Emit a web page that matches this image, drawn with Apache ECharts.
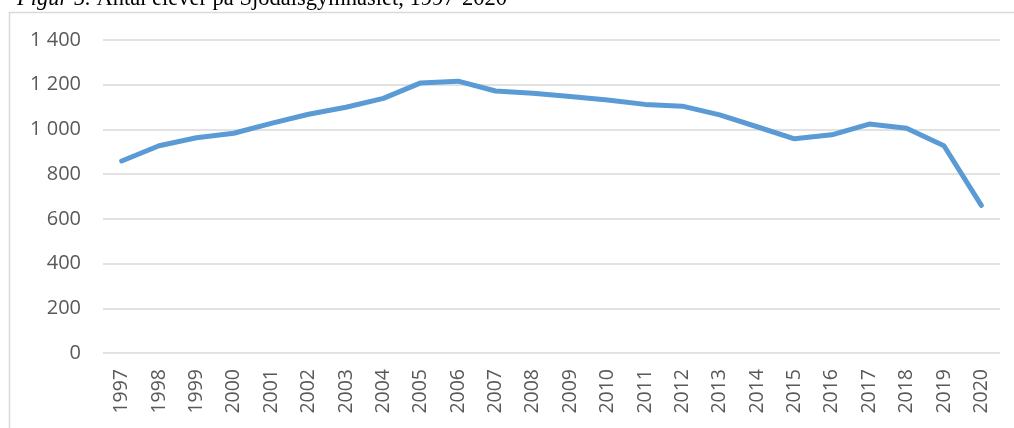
<!DOCTYPE html>
<html>
<head>
<meta charset="utf-8">
<script src="https://cdn.jsdelivr.net/npm/echarts@6/dist/echarts.min.js"></script>
<style>
html,body{margin:0;padding:0;background:#fff;}
#c{width:1014px;height:428px;}
</style>
</head>
<body>
<div id="c"></div>
<script>
const years = ['1997','1998','1999','2000','2001','2002','2003','2004','2005','2006','2007','2008','2009','2010','2011','2012','2013','2014','2015','2016','2017','2018','2019','2020'];
const students = [859, 927, 963, 983, 1027, 1068, 1099, 1139, 1208, 1216, 1172, 1162, 1147, 1132, 1112, 1104, 1065, 1012, 958, 976, 1024, 1005, 927, 660];
const yTicks = [0, 200, 400, 600, 800, 1000, 1200, 1400];
const titlePrefix = 'Figur 5.';
const titleText = ' Antal elever på Sjödalsgymnasiet, 1997-2020';

function fmt(v){ return String(v).replace(/\B(?=(\d{3})+(?!\d))/g, ' '); }

const chart = echarts.init(document.getElementById('c'));
chart.setOption({
  animation: false,
  backgroundColor: '#fff',
  graphic: [
    {
      type: 'rect',
      shape: { x: 9.5, y: 12.5, width: 1010, height: 430 },
      style: { fill: 'none', stroke: '#d9d9d9', lineWidth: 1.5 },
      silent: true, z: -1
    },
    {
      type: 'text',
      left: 17, top: -12,
      style: {
        text: '{i|' + titlePrefix + '}{r|' + titleText + '}',
        rich: {
          i: { fontFamily: 'Liberation Serif', fontStyle: 'italic', fontSize: 22.5, fill: '#000' },
          r: { fontFamily: 'Liberation Serif', fontSize: 22.5, fill: '#000' }
        }
      }
    }
  ],
  grid: { left: 103, right: 14, top: 40, bottom: 75 },
  xAxis: {
    type: 'category',
    data: years,
    boundaryGap: true,
    axisLine: { show: false },
    axisTick: { show: false },
    axisLabel: { rotate: 90, margin: 16, color: '#595959', fontFamily: 'Open Sans', fontSize: 19.5, interval: 0 }
  },
  yAxis: {
    type: 'value',
    min: yTicks[0], max: yTicks[yTicks.length - 1], interval: 200,
    axisLine: { show: false },
    axisTick: { show: false },
    axisLabel: { margin: 22, color: '#595959', fontFamily: 'Open Sans', fontSize: 20, formatter: fmt },
    splitLine: { lineStyle: { color: '#d9d9d9', width: 1.5 } }
  },
  series: [{
    type: 'line',
    data: students,
    showSymbol: false,
    lineStyle: { color: '#5b9bd5', width: 5, cap: 'round', join: 'round' },
    itemStyle: { color: '#5b9bd5' }
  }]
});
</script>
</body>
</html>
